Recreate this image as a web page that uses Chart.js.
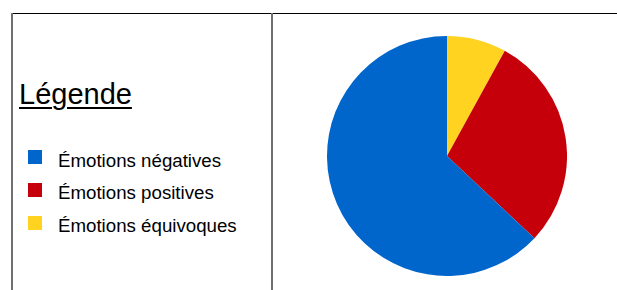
<!DOCTYPE html>
<html>
<head>
<meta charset="utf-8">
<script src="https://cdn.jsdelivr.net/npm/chart.js@4"></script>
<style>
  html, body { margin: 0; padding: 0; background: #fff; width: 617px; height: 290px; overflow: hidden; }
  body { position: relative; font-family: "Liberation Sans", Arial, sans-serif; color: #000; }
  .hline { position: absolute; left: 11px; top: 13px; width: 606px; height: 1px; background: #000; }
  .vline { position: absolute; top: 13px; width: 2px; height: 277px; background: #707070; }
  #title { position: absolute; left: 19px; top: 80px; font-size: 29px; line-height: 29px; text-decoration: underline; text-decoration-thickness: 1.5px; text-underline-offset: 3px; white-space: nowrap; }
  .sw { position: absolute; left: 28px; width: 14px; height: 14px; }
  .lt { position: absolute; left: 58px; font-size: 18.7px; line-height: 20px; white-space: nowrap; }
  #wrap { position: absolute; left: 327px; top: 36px; width: 240px; height: 240px; }
</style>
</head>
<body>
<div class="hline"></div>
<div class="vline" style="left:11px"></div>
<div class="vline" style="left:271px"></div>
<div id="title">Légende</div>
<div id="legend"></div>
<div id="wrap"><canvas id="c"></canvas></div>
<script>
// Legend order (as shown in the left cell)
const legendLabels = ["Émotions négatives", "Émotions positives", "Émotions équivoques"];
const legendColors = ["#0066CC", "#C5000B", "#FFD320"];
const legendTitle = "Légende";

// Pie data, clockwise from 12 o'clock
const sliceLabels = ["Émotions équivoques", "Émotions positives", "Émotions négatives"];
const sliceValues = [8, 29, 63];
const sliceColors = ["#FFD320", "#C5000B", "#0066CC"];

document.getElementById('title').textContent = legendTitle;
const lg = document.getElementById('legend');
legendLabels.forEach((lab, i) => {
  const sw = document.createElement('div');
  sw.className = 'sw';
  sw.style.top = (150 + i * 33) + 'px';
  sw.style.background = legendColors[i];
  lg.appendChild(sw);
  const t = document.createElement('div');
  t.className = 'lt';
  t.style.top = (150.5 + i * 32.5) + 'px';
  t.textContent = lab;
  lg.appendChild(t);
});

new Chart(document.getElementById('c'), {
  type: 'pie',
  data: {
    labels: sliceLabels,
    datasets: [{ data: sliceValues, backgroundColor: sliceColors, borderWidth: 0 }]
  },
  options: {
    responsive: true,
    maintainAspectRatio: false,
    animation: false,
    layout: { padding: 0 },
    plugins: { legend: { display: false }, tooltip: { enabled: false } }
  }
});
</script>
</body>
</html>
